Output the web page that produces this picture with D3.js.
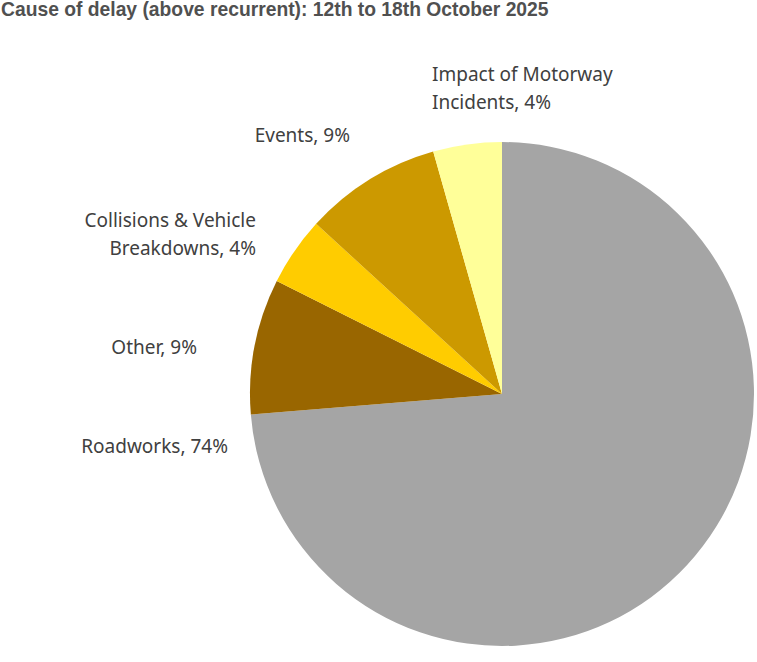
<!DOCTYPE html>
<html>
<head>
<meta charset="utf-8">
<script src="https://cdn.jsdelivr.net/npm/d3@7"></script>
<style>
  html, body { margin: 0; padding: 0; background: #ffffff; }
  svg { display: block; }
</style>
</head>
<body>
<svg id="chart" width="757" height="662"></svg>
<script>
// ---- data ----
const categories = ["Roadworks", "Other", "Collisions & Vehicle Breakdowns", "Events", "Impact of Motorway Incidents"];
const values = [73.7, 8.7, 4.4, 8.8, 4.4];
const labelLines = [
  ["Roadworks, 74%"],
  ["Other, 9%"],
  ["Collisions & Vehicle", "Breakdowns, 4%"],
  ["Events, 9%"],
  ["Impact of Motorway", "Incidents, 4%"]
];
const colors = ["#A5A5A5", "#996600", "#FFCC00", "#CC9900", "#FFFF99"];
const title = "Cause of delay (above recurrent): 12th to 18th October 2025";

// ---- layout ----
const W = 757, H = 662;
const cx = 502, cy = 394, R = 252;
const labelFont = "'Noto Sans', sans-serif";
// label layout: [x, y of first line, anchor]
const labelPos = [
  [228, 446, "end"],
  [197, 347, "end"],
  [256, 220, "end"],
  [350, 135, "end"],
  [432, 74, "start"]
];

const svg = d3.select("#chart");

svg.append("text")
  .attr("x", 1).attr("y", 9)
  .attr("dominant-baseline", "central")
  .attr("font-family", "'Liberation Sans Narrow', 'Liberation Sans', sans-serif")
  .attr("font-weight", "bold")
  .attr("font-size", 19.3)
  .attr("fill", "#505050")
  .text(title);

const pie = d3.pie().sort(null).value(d => d);
const arc = d3.arc().innerRadius(0).outerRadius(R);
const arcs = pie(values);

const g = svg.append("g").attr("transform", `translate(${cx},${cy})`);
g.selectAll("path").data(arcs).join("path")
  .attr("d", arc)
  .attr("fill", (d, i) => colors[i])
  .attr("stroke", "none");

const lab = svg.append("g");
labelLines.forEach((lines, i) => {
  const [x, y, anchor] = labelPos[i];
  const t = lab.append("text")
    .attr("text-anchor", anchor)
    .attr("font-family", labelFont)
    .attr("font-size", 19)
    .attr("fill", "#404040");
  lines.forEach((ln, j) => {
    t.append("tspan").attr("x", x).attr("y", y + j * 28)
      .attr("dominant-baseline", "central").text(ln);
  });
});
</script>
</body>
</html>
